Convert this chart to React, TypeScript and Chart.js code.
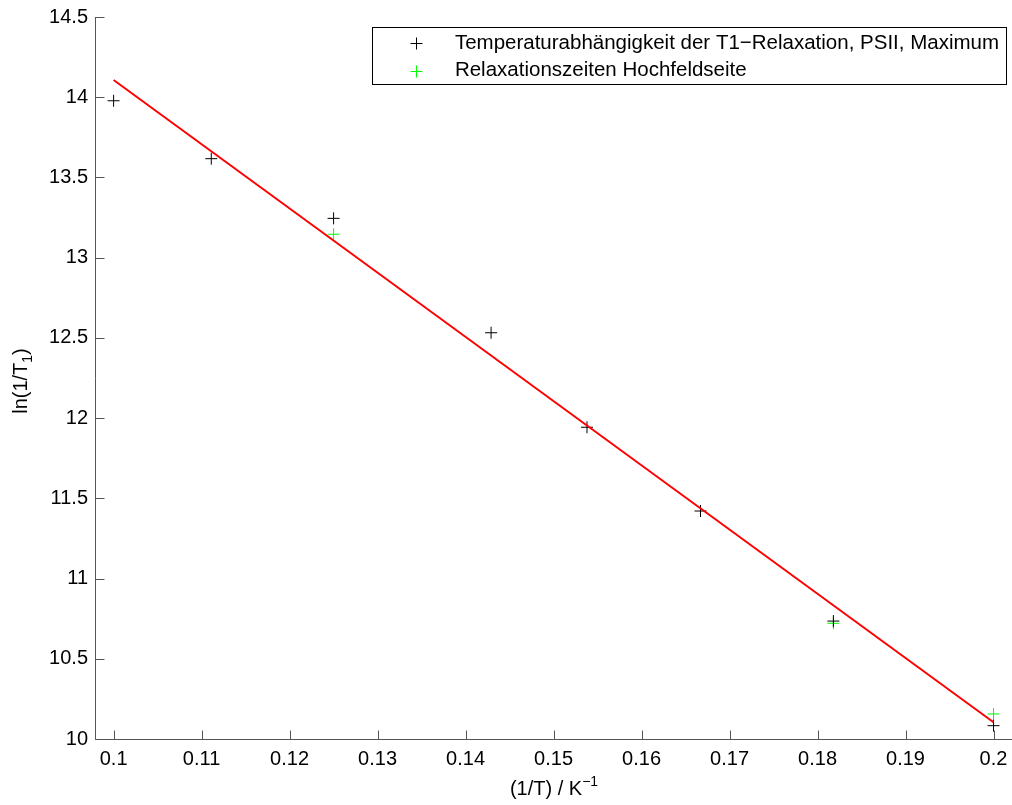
import React, { useEffect, useRef } from "react";
import { Chart, registerables } from "chart.js";

Chart.register(...registerables);

const seriesLabels = [
  "Temperaturabhängigkeit der T1−Relaxation, PSII, Maximum",
  "Relaxationszeiten Hochfeldseite",
];
const blackX = [0.1, 0.1111, 0.125, 0.1429, 0.1538, 0.1667, 0.1818, 0.2];
const blackY = [13.978, 13.617, 13.245, 12.532, 11.943, 11.421, 10.735, 10.083];
const greenX = [0.125, 0.1818, 0.2];
const greenY = [13.146, 10.721, 10.156];
const fitX = [0.1, 0.2];
const fitY = [14.107, 10.104];
const xTicks = [0.1, 0.11, 0.12, 0.13, 0.14, 0.15, 0.16, 0.17, 0.18, 0.19, 0.2];
const xTickLabels = ["0.1", "0.11", "0.12", "0.13", "0.14", "0.15", "0.16", "0.17", "0.18", "0.19", "0.2"];
const yTicks = [10, 10.5, 11, 11.5, 12, 12.5, 13, 13.5, 14, 14.5];
const yTickLabels = ["10", "10.5", "11", "11.5", "12", "12.5", "13", "13.5", "14", "14.5"];

const FONT = '"Liberation Sans", Arial, Helvetica, sans-serif';
const AXIS_COLOR = "#555555";

const overlay = {
  id: "overlay",
  afterDraw(chart: any) {
    const { ctx, chartArea: ca, scales } = chart;
    ctx.save();
    // axes lines
    ctx.strokeStyle = AXIS_COLOR;
    ctx.lineWidth = 1;
    const ax = Math.round(ca.left) - 0.5;
    const ay = Math.round(ca.bottom) + 0.5;
    ctx.beginPath();
    ctx.moveTo(ax, Math.round(ca.top));
    ctx.lineTo(ax, ay);
    ctx.lineTo(ca.right, ay);
    ctx.stroke();
    // inward ticks
    ctx.beginPath();
    for (const v of xTicks) {
      const px = Math.round(scales.x.getPixelForValue(v)) + 0.5;
      ctx.moveTo(px, ay);
      ctx.lineTo(px, ay - 9);
    }
    for (const v of yTicks) {
      const py = Math.round(scales.y.getPixelForValue(v)) + 0.5;
      ctx.moveTo(ax, py);
      ctx.lineTo(ax + 9, py);
    }
    ctx.stroke();

    // x title: (1/T) / K^-1
    ctx.fillStyle = "#000";
    ctx.textBaseline = "alphabetic";
    ctx.font = `20px ${FONT}`;
    const xMain = "(1/T) / K";
    const wMain = ctx.measureText(xMain).width;
    ctx.font = `14px ${FONT}`;
    const xSup = "−1";
    const wSup = ctx.measureText(xSup).width;
    const cx = (ca.left + ca.right) / 2;
    const sx = cx - (wMain + wSup) / 2;
    ctx.font = `20px ${FONT}`;
    ctx.textAlign = "left";
    ctx.fillText(xMain, sx, 795);
    ctx.font = `14px ${FONT}`;
    ctx.fillText(xSup, sx + wMain, 786);

    // y title: ln(1/T_1)
    ctx.save();
    ctx.translate(27, 381);
    ctx.rotate(-Math.PI / 2);
    ctx.font = `20px ${FONT}`;
    const y1 = "ln(1/T";
    const y3 = ")";
    const w1 = ctx.measureText(y1).width;
    const w3 = ctx.measureText(y3).width;
    ctx.font = `14px ${FONT}`;
    const y2 = "1";
    const w2 = ctx.measureText(y2).width;
    const tx = -(w1 + w2 + w3) / 2;
    ctx.font = `20px ${FONT}`;
    ctx.fillText(y1, tx, 0);
    ctx.font = `14px ${FONT}`;
    ctx.fillText(y2, tx + w1, 5);
    ctx.font = `20px ${FONT}`;
    ctx.fillText(y3, tx + w1 + w2, 0);
    ctx.restore();

    // legend
    ctx.font = `20.5px ${FONT}`;
    const maxW = Math.max(...seriesLabels.map((s) => ctx.measureText(s).width));
    const boxW = 83 + maxW + 7;
    const boxR = ca.right - 6;
    const boxL = boxR - boxW;
    const boxT = ca.top + 10;
    const boxH = 57;
    ctx.fillStyle = "#fff";
    ctx.fillRect(boxL, boxT, boxW, boxH);
    ctx.strokeStyle = "#000";
    ctx.lineWidth = 1;
    ctx.strokeRect(Math.round(boxL) + 0.5, Math.round(boxT) + 0.5, Math.round(boxW), boxH);
    const colors = ["#000000", "#00ff00"];
    const rows = [boxT + 16, boxT + 43.5];
    rows.forEach((ry, i) => {
      const mx = Math.round(boxL + 44) + 0.5;
      const my = Math.round(ry) + 0.5;
      ctx.strokeStyle = colors[i];
      ctx.beginPath();
      ctx.moveTo(mx - 6, my);
      ctx.lineTo(mx + 6, my);
      ctx.moveTo(mx, my - 6);
      ctx.lineTo(mx, my + 6);
      ctx.stroke();
      ctx.fillStyle = "#000";
      ctx.textBaseline = "middle";
      ctx.textAlign = "left";
      ctx.fillText(seriesLabels[i], boxL + 83, ry);
    });
    ctx.restore();
  },
};

export default function App() {
  const canvasRef = useRef<HTMLCanvasElement | null>(null);

  useEffect(() => {
    if (!canvasRef.current) return;
    const chart = new Chart(canvasRef.current, {
      type: "scatter",
      data: {
        datasets: [
          {
            label: "fit",
            data: fitX.map((x, i) => ({ x, y: fitY[i] })),
            showLine: true,
            borderColor: "#ff0000",
            borderWidth: 2,
            pointRadius: 0,
            fill: false,
          },
          {
            label: seriesLabels[0],
            data: blackX.map((x, i) => ({ x, y: blackY[i] })),
            pointStyle: "cross",
            pointRadius: 6,
            borderColor: "#000000",
            borderWidth: 1,
            showLine: false,
          },
          {
            label: seriesLabels[1],
            data: greenX.map((x, i) => ({ x, y: greenY[i] })),
            pointStyle: "cross",
            pointRadius: 6,
            borderColor: "#00ff00",
            borderWidth: 1,
            showLine: false,
          },
        ],
      },
      options: {
        animation: false,
        responsive: false,
        devicePixelRatio: 1,
        layout: { autoPadding: false, padding: { top: 17, right: 0, left: 0, bottom: 0 } },
        plugins: { legend: { display: false }, tooltip: { enabled: false } },
        scales: {
          x: {
            type: "linear",
            min: 0.098,
            max: 0.2021,
            grid: { display: false, drawTicks: false, tickLength: 0 },
            border: { display: false },
            afterBuildTicks: (scale: any) => {
              scale.ticks = xTicks.map((v) => ({ value: v }));
            },
            afterFit: (scale: any) => {
              scale.height = 66;
              scale.paddingLeft = 0;
              scale.paddingRight = 0;
            },
            ticks: {
              autoSkip: false,
              maxRotation: 0,
              padding: 8,
              color: "#000",
              font: { family: FONT, size: 20 },
              callback: (_v: any, i: number) => xTickLabels[i],
            },
          },
          y: {
            type: "linear",
            min: 10,
            max: 14.5,
            grid: { display: false, drawTicks: false, tickLength: 0 },
            border: { display: false },
            afterBuildTicks: (scale: any) => {
              scale.ticks = yTicks.map((v) => ({ value: v }));
            },
            afterFit: (scale: any) => {
              scale.width = 96;
              scale.paddingTop = 0;
              scale.paddingBottom = 0;
            },
            ticks: {
              autoSkip: false,
              padding: 8,
              color: "#000",
              font: { family: FONT, size: 20 },
              callback: (_v: any, i: number) => yTickLabels[i],
            },
          },
        },
      },
      plugins: [overlay],
    });
    return () => chart.destroy();
  }, []);

  return (
    <div style={{ position: "absolute", left: 0, top: 0, width: 1012, height: 805, background: "#fff" }}>
      <canvas ref={canvasRef} width={1012} height={805} style={{ display: "block" }} />
    </div>
  );
}
